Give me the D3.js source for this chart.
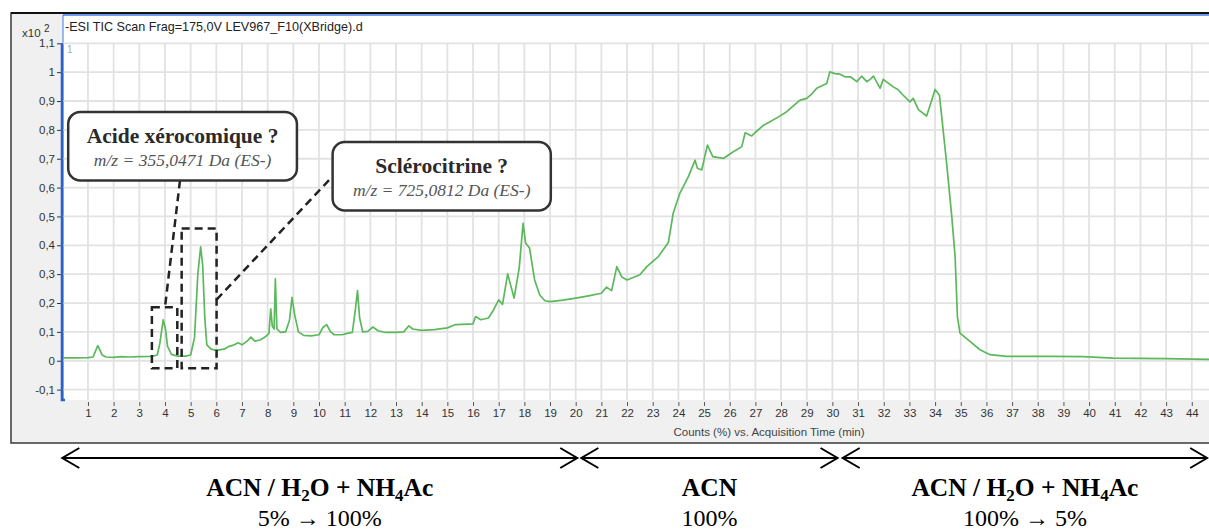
<!DOCTYPE html>
<html><head><meta charset="utf-8">
<script src="https://cdn.jsdelivr.net/npm/d3@7"></script>
<style>body{margin:0;background:#fff;overflow:hidden}svg{display:block}</style>
</head><body>
<svg id="c" width="1209" height="531"></svg>
<script>
// ---- data ----
const timeMin = [0,0.5,1.0,1.2,1.3,1.38,1.45,1.55,1.7,2.0,2.3,2.6,3.0,3.5,3.7,3.8,3.93,4.02,4.1,4.25,4.5,4.8,5.0,5.15,5.28,5.39,5.47,5.55,5.63,5.8,6.0,6.3,6.5,6.7,6.85,7.0,7.2,7.35,7.5,7.7,7.9,8.05,8.12,8.18,8.25,8.3,8.36,8.5,8.7,8.85,8.95,9.05,9.2,9.4,9.7,10.0,10.15,10.3,10.45,10.6,10.9,11.1,11.3,11.42,11.5,11.58,11.7,11.9,12.1,12.3,12.6,13.0,13.3,13.5,13.65,14.0,14.5,15.0,15.3,15.6,16.0,16.1,16.3,16.6,16.8,17.0,17.15,17.35,17.6,17.8,17.95,18.05,18.2,18.4,18.6,18.8,19.0,19.5,20.0,20.5,21.0,21.2,21.4,21.6,21.8,22.0,22.5,22.77,23.22,23.61,23.8,24.06,24.39,24.65,24.74,24.91,25.13,25.34,25.75,26.14,26.47,26.6,26.86,26.98,27.3,27.57,27.9,28.22,28.5,28.74,29.0,29.2,29.39,29.78,29.9,30.1,30.3,30.49,30.7,30.95,31.14,31.34,31.47,31.6,31.86,31.98,32.37,32.55,32.76,33.02,33.15,33.35,33.67,33.87,34.0,34.17,34.26,34.45,34.65,34.78,34.87,34.97,35.36,35.75,36.14,36.79,37.5,38.47,39.77,40.94,42.0,43.0,44.7];
const counts = [0.010,0.010,0.011,0.013,0.035,0.052,0.040,0.020,0.013,0.012,0.014,0.013,0.014,0.015,0.020,0.060,0.142,0.110,0.050,0.022,0.016,0.016,0.020,0.080,0.300,0.395,0.330,0.150,0.055,0.040,0.036,0.040,0.050,0.055,0.062,0.055,0.068,0.082,0.068,0.072,0.082,0.095,0.180,0.120,0.110,0.284,0.110,0.098,0.100,0.140,0.220,0.160,0.100,0.088,0.086,0.090,0.115,0.125,0.100,0.090,0.090,0.095,0.098,0.180,0.243,0.150,0.100,0.102,0.117,0.104,0.098,0.098,0.100,0.121,0.110,0.105,0.108,0.114,0.125,0.126,0.128,0.153,0.142,0.148,0.176,0.211,0.195,0.301,0.217,0.322,0.476,0.408,0.391,0.280,0.228,0.208,0.205,0.210,0.217,0.225,0.234,0.255,0.243,0.326,0.290,0.280,0.298,0.326,0.361,0.410,0.512,0.581,0.638,0.695,0.667,0.661,0.747,0.707,0.701,0.724,0.742,0.790,0.779,0.790,0.815,0.828,0.845,0.863,0.885,0.903,0.909,0.925,0.944,0.961,1.001,0.995,0.993,0.984,0.984,0.967,0.986,0.967,0.975,0.986,0.944,0.975,0.949,0.940,0.920,0.897,0.909,0.870,0.848,0.903,0.940,0.920,0.845,0.684,0.500,0.361,0.153,0.096,0.067,0.038,0.021,0.015,0.015,0.015,0.014,0.009,0.008,0.007,0.005];
const xTickValues = d3.range(1, 45);
const yTickValues = [-0.1,0,0.1,0.2,0.3,0.4,0.5,0.6,0.7,0.8,0.9,1.0,1.1];
const chartTitle = "ESI TIC Scan Frag=175,0V LEV967_F10(XBridge).d";
const xAxisTitle = "Counts (%) vs. Acquisition Time (min)";
const phaseStart = [0, 20.22, 30.4];
const phaseEnd = [20.06, 30.2, 44.6];
const phaseSolvent = [["ACN / H","2","O + NH","4","Ac"], ["ACN"], ["ACN / H","2","O + NH","4","Ac"]];
const phaseGradient = ["5% \u2192 100%", "100%", "100% \u2192 5%"];
const annoTitles = ["Acide xérocomique ?", "Sclérocitrine ?"];
const annoMz = ["m/z = 355,0471 Da (ES-)", "m/z = 725,0812 Da (ES-)"];

// ---- layout ----
const svg = d3.select("#c");
const x = d3.scaleLinear().domain([0, 44]).range([62.3, 62.3 + 44 * 25.67]);
const y = d3.scaleLinear().domain([-0.1, 1.1]).range([389.6, 43.3]);
const plotL = 63, plotT = 15, plotB = 400, W = 1209;
const SANS = "Liberation Sans, Arial, sans-serif";
const SERIF = "Liberation Serif, Times New Roman, serif";

// panel
svg.append("rect").attr("x", 11).attr("y", 13).attr("width", W).attr("height", 430)
  .attr("fill", "#f0f0f0").attr("stroke", "#3a3a3a").attr("stroke-width", 1.5);
svg.append("line").attr("x1", 11).attr("x2", W).attr("y1", 13).attr("y2", 13).attr("stroke", "#111").attr("stroke-width", 2);
svg.append("rect").attr("x", plotL).attr("y", plotT).attr("width", W - plotL).attr("height", plotB - plotT).attr("fill", "#fff");
svg.append("line").attr("x1", plotL).attr("x2", W).attr("y1", plotT).attr("y2", plotT).attr("stroke", "#3f7be0").attr("stroke-width", 1.5);
svg.append("line").attr("x1", plotL).attr("x2", plotL).attr("y1", plotT).attr("y2", plotB).attr("stroke", "#3f7be0").attr("stroke-width", 1);

// grid
const g = svg.append("g");
g.selectAll(".vg").data(xTickValues).join("line")
  .attr("x1", d => x(d)).attr("x2", d => x(d)).attr("y1", y(1.1)).attr("y2", plotB)
  .attr("stroke", "#e2e2e2").attr("stroke-width", 1.8);
g.selectAll(".hg").data(yTickValues).join("line")
  .attr("x1", plotL).attr("x2", W).attr("y1", d => y(d)).attr("y2", d => y(d))
  .attr("stroke", "#e2e2e2").attr("stroke-width", 1.8);

// y axis
const fmt = v => (Math.round(v * 10) / 10).toString().replace(".", ",");
const yAxis = d3.axisLeft(y).tickValues(yTickValues).tickSize(5).tickPadding(2).tickFormat(fmt);
const ya = svg.append("g").attr("transform", `translate(${plotL - 1},0)`).call(yAxis);
ya.select(".domain").remove();
ya.selectAll("line").attr("stroke", "#333");
ya.selectAll("text").attr("font-family", SANS).attr("font-size", 11.5).attr("fill", "#333");
svg.append("path").attr("d", `M${plotL - 1},${y(1.1)}V${plotB}h3`).attr("fill", "none")
  .attr("stroke", "#2b62c9").attr("stroke-width", 2.6);

// x axis
const xAxis = d3.axisBottom(x).tickValues(xTickValues).tickSize(4).tickPadding(3).tickFormat(d3.format("d"));
const xa = svg.append("g").attr("transform", `translate(0,${plotB + 2})`).call(xAxis);
xa.select(".domain").remove();
xa.selectAll("line").attr("stroke", "#555");
xa.selectAll("text").attr("font-family", SANS).attr("font-size", 11.5).attr("fill", "#333");
svg.append("text").attr("x", 769).attr("y", 436).attr("text-anchor", "middle")
  .attr("font-family", SANS).attr("font-size", 11.5).attr("fill", "#444").text(xAxisTitle);

// header texts
svg.append("text").attr("x", 22).attr("y", 37).attr("font-family", SANS)
  .attr("font-size", 11.5).attr("fill", "#333").text("x10");
svg.append("text").attr("x", 44).attr("y", 32).attr("font-family", SANS)
  .attr("font-size", 10).attr("fill", "#333").text("2");
svg.append("text").attr("x", 65).attr("y", 31).attr("font-family", SANS)
  .attr("font-size", 12.6).attr("fill", "#222").text("-" + chartTitle);
svg.append("text").attr("x", 67).attr("y", 53).attr("font-family", SANS)
  .attr("font-size", 10).attr("fill", "#aaa").text("1");

// trace
svg.append("clipPath").attr("id", "clip").append("rect").attr("x", plotL).attr("y", plotT).attr("width", W - plotL).attr("height", plotB - plotT);
const line = d3.line().x(i => x(timeMin[i])).y(i => y(counts[i]));
svg.append("path").attr("clip-path", "url(#clip)").attr("d", line(d3.range(timeMin.length)))
  .attr("fill", "none").attr("stroke", "#5cb85c").attr("stroke-width", 1.7).attr("stroke-linejoin", "round");

// annotations (in data units)
const dash = sel => sel.attr("fill", "none").attr("stroke", "#222").attr("stroke-width", 2.5).attr("stroke-dasharray", "8,5");
const rects = [[3.49, 4.48, 0.185, -0.026], [4.65, 6.01, 0.458, -0.026]];
rects.forEach(r => svg.append("rect").attr("x", x(r[0])).attr("y", y(r[2])).attr("width", x(r[1]) - x(r[0])).attr("height", y(r[3]) - y(r[2])).call(dash));
const links = [[4.585, 0.625, 4.0, 0.185], [6.01, 0.212, 10.53, 0.639]];
links.forEach(l => svg.append("line").attr("x1", x(l[0])).attr("y1", y(l[1])).attr("x2", x(l[2])).attr("y2", y(l[3])).call(dash));

const boxes = [[0.23, 9.14, 0.862, 0.625], [10.53, 19.03, 0.758, 0.521]];
boxes.forEach((b, i) => {
  svg.append("rect").attr("x", x(b[0])).attr("y", y(b[2])).attr("width", x(b[1]) - x(b[0])).attr("height", y(b[3]) - y(b[2]))
    .attr("rx", 12).attr("fill", "#fff").attr("stroke", "#333").attr("stroke-width", 2.5);
  const cx = (x(b[0]) + x(b[1])) / 2, top = y(b[2]), h = y(b[3]) - y(b[2]);
  svg.append("text").attr("x", cx).attr("y", top + h * 0.46).attr("text-anchor", "middle")
    .attr("font-family", SERIF).attr("font-weight", "bold").attr("font-size", 21.5)
    .attr("fill", "#2a2a2a").text(annoTitles[i]);
  svg.append("text").attr("x", cx).attr("y", top + h * 0.79).attr("text-anchor", "middle")
    .attr("font-family", SERIF).attr("font-style", "italic").attr("font-size", 17.5)
    .attr("fill", "#555").text(annoMz[i]);
});

// gradient phases
const arrowY = 458;
phaseStart.forEach((s, i) => {
  const x1 = x(s), x2 = x(phaseEnd[i]);
  svg.append("line").attr("x1", x1).attr("x2", x2).attr("y1", arrowY).attr("y2", arrowY).attr("stroke", "#000").attr("stroke-width", 2);
  svg.append("path").attr("d", `M${x1 + 17},${arrowY - 10}L${x1},${arrowY}L${x1 + 17},${arrowY + 10}`)
    .attr("fill", "none").attr("stroke", "#000").attr("stroke-width", 2);
  svg.append("path").attr("d", `M${x2 - 17},${arrowY - 10}L${x2},${arrowY}L${x2 - 17},${arrowY + 10}`)
    .attr("fill", "none").attr("stroke", "#000").attr("stroke-width", 2);
  const cx = (x1 + x2) / 2;
  const t = svg.append("text").attr("x", cx).attr("y", 496).attr("text-anchor", "middle")
    .attr("font-family", SERIF).attr("font-weight", "bold").attr("font-size", 25.5).attr("fill", "#000");
  phaseSolvent[i].forEach((part, j) => {
    const sub = j % 2 === 1;
    t.append("tspan").attr("font-size", sub ? 17 : 25.5).attr("dy", j === 0 ? 0 : (sub ? 5 : -5)).text(part);
  });
  svg.append("text").attr("x", cx).attr("y", 526).attr("text-anchor", "middle")
    .attr("font-family", SERIF).attr("font-size", 24).attr("fill", "#000").text(phaseGradient[i]);
});
</script>
</body></html>
